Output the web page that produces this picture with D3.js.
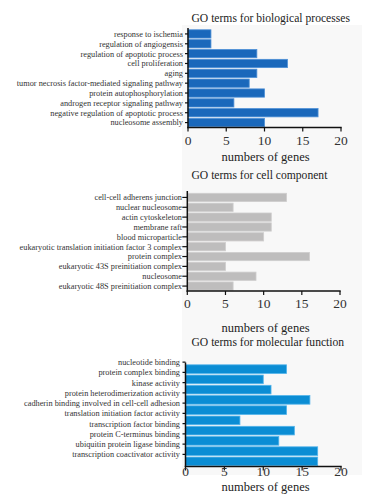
<!DOCTYPE html>
<html>
<head>
<meta charset="utf-8">
<script src="https://cdn.jsdelivr.net/npm/d3@7"></script>
<style>
  body { margin: 0; background: #fff; }
  text { font-family: "Liberation Serif", "Times New Roman", serif; }
</style>
</head>
<body>
<script>
// GO term data
const bpTerms = ['response to ischemia', 'regulation of angiogensis', 'regulation of apoptotic process',
  'cell proliferation', 'aging', 'tumor necrosis factor-mediated signaling pathway',
  'protein autophosphorylation', 'androgen receptor signaling pathway',
  'negative regulation of apoptotic process', 'nucleosome assembly'];
const bpCounts = [3, 3, 9, 13, 9, 8, 10, 6, 17, 10];

const ccTerms = ['cell-cell adherens junction', 'nuclear nucleosome', 'actin cytoskeleton',
  'membrane raft', 'blood microparticle', 'eukaryotic translation initiation factor 3 complex',
  'protein complex', 'eukaryotic 43S preinitiation complex', 'nucleosome',
  'eukaryotic 48S preinitiation complex'];
const ccCounts = [13, 6, 11, 11, 10, 5, 16, 5, 9, 6];

const mfTerms = ['nucleotide binding', 'protein complex binding', 'kinase activity',
  'protein heterodimerization activity', 'cadherin binding involved in cell-cell adhesion',
  'translation initiation factor activity', 'transcription factor binding',
  'protein C-terminus binding', 'ubiquitin protein ligase binding', 'transcription coactivator activity'];
const mfCounts = [13, 10, 11, 16, 13, 7, 14, 12, 17, 17];

const xTicks = [0, 5, 10, 15, 20];
const titles = ['GO terms for biological processes', 'GO terms for cell component', 'GO terms for molecular function'];
const xTitle = 'numbers of genes';

const width = 381, height = 498;

const svg = d3.select('body').append('svg')
  .attr('width', width)
  .attr('height', height);

// light panel behind the plots
svg.append('rect')
  .attr('x', 182).attr('y', 25)
  .attr('width', 180).attr('height', 450)
  .attr('fill', '#f8f8f8');

function drawPanel(p) {
  const x = d3.scaleLinear().domain([0, 20]).range([p.x0, p.x1]);
  const y = d3.scaleBand().domain(d3.range(p.counts.length))
    .range([p.top, p.bottom]).paddingInner(0.16).paddingOuter(0.08);

  const g = svg.append('g');

  g.append('text')
    .attr('x', 191.5).attr('y', p.titleY)
    .attr('font-size', 11.6).attr('fill', '#222')
    .text(p.title);

  g.selectAll('rect.bar')
    .data(p.counts)
    .join('rect')
    .attr('class', 'bar')
    .attr('x', x(0))
    .attr('y', (d, i) => y(i))
    .attr('width', d => x(d) - x(0))
    .attr('height', y.bandwidth())
    .attr('fill', p.fill)
    .attr('stroke', p.stroke)
    .attr('stroke-width', 0.8);

  // category labels and ticks (shifted in the last panel like the source figure)
  const labelY = i => y(i) + y.bandwidth() / 2 + p.labelShift;
  g.selectAll('text.term')
    .data(p.terms)
    .join('text')
    .attr('class', 'term')
    .attr('x', p.labelX)
    .attr('y', (d, i) => labelY(i))
    .attr('dy', '0.35em')
    .attr('text-anchor', 'end')
    .attr('font-size', 8.3)
    .attr('fill', '#333')
    .text(d => d);

  g.selectAll('line.ytick')
    .data(p.terms)
    .join('line')
    .attr('class', 'ytick')
    .attr('x1', x(0) - p.tickLen).attr('x2', x(0))
    .attr('y1', (d, i) => labelY(i)).attr('y2', (d, i) => labelY(i))
    .attr('stroke', '#111').attr('stroke-width', 1.2);

  // axes
  g.append('line')
    .attr('x1', x(0)).attr('x2', x(0))
    .attr('y1', p.axisTop).attr('y2', p.bottom + 0.7)
    .attr('stroke', '#111').attr('stroke-width', 1.5);
  g.append('line')
    .attr('x1', x(0) - 0.7).attr('x2', x(20) + 0.7)
    .attr('y1', p.bottom).attr('y2', p.bottom)
    .attr('stroke', '#111').attr('stroke-width', 1.5);

  g.selectAll('line.xtick')
    .data(xTicks)
    .join('line')
    .attr('class', 'xtick')
    .attr('x1', d => x(d)).attr('x2', d => x(d))
    .attr('y1', p.bottom).attr('y2', p.bottom + 4)
    .attr('stroke', '#111').attr('stroke-width', 1.2);

  g.selectAll('text.xlab')
    .data(xTicks)
    .join('text')
    .attr('class', 'xlab')
    .attr('x', d => x(d)).attr('y', p.tickY)
    .attr('text-anchor', 'middle')
    .attr('font-size', 13.5).attr('fill', '#333')
    .text(d => d);

  g.append('text')
    .attr('x', 265.5).attr('y', p.xTitleY)
    .attr('text-anchor', 'middle')
    .attr('font-size', 12.5).attr('fill', '#222')
    .text(xTitle);
}

drawPanel({ title: titles[0], terms: bpTerms, counts: bpCounts,
  fill: '#1a68bb', stroke: '#4d8fd6',
  x0: 188, x1: 341, top: 29, bottom: 127.5, axisTop: 28,
  labelX: 183, labelShift: 0, tickLen: 3,
  titleY: 22, tickY: 145, xTitleY: 161 });

drawPanel({ title: titles[1], terms: ccTerms, counts: ccCounts,
  fill: '#bebdbd', stroke: '#cfcece',
  x0: 187.3, x1: 340, top: 192.5, bottom: 291, axisTop: 191,
  labelX: 182, labelShift: 0, tickLen: 5,
  titleY: 179, tickY: 308, xTitleY: 332 });

drawPanel({ title: titles[2], terms: mfTerms, counts: mfCounts,
  fill: '#0b8dd4', stroke: '#52b3ea',
  x0: 185.5, x1: 341, top: 364, bottom: 466.5, axisTop: 362.5,
  labelX: 180, labelShift: -7, tickLen: 3,
  titleY: 346, tickY: 475.5, xTitleY: 491 });
</script>
</body>
</html>
